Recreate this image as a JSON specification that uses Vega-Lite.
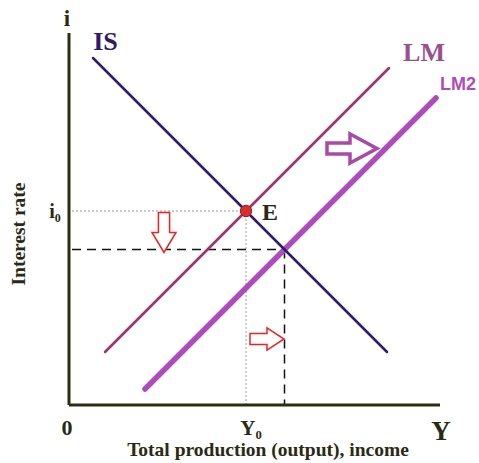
{
  "$schema": "https://vega.github.io/schema/vega-lite/v6.json",
  "width": 371,
  "height": 372,
  "autosize": {"type": "none"},
  "padding": {"left": 69, "right": 39, "top": 33, "bottom": 58},
  "background": "white",
  "config": {"view": {"stroke": null}},
  "encoding": {
    "x": {"field": "x", "type": "quantitative", "scale": {"domain": [0, 371], "nice": false, "zero": false}, "axis": null},
    "y": {"field": "y", "type": "quantitative", "scale": {"domain": [0, 372], "nice": false, "zero": false}, "axis": null}
  },
  "layer": [
    {
      "data": {"values": [{"x": 177, "y": 194, "x2": 0, "y2": 194}, {"x": 177, "y": 194, "x2": 177, "y2": 0}]},
      "mark": {"type": "rule", "color": "#9a9a9a", "strokeWidth": 1, "strokeDash": [2, 2]},
      "encoding": {"x2": {"field": "x2"}, "y2": {"field": "y2"}}
    },
    {
      "data": {"values": [{"x": 3, "y": 155.5, "x2": 215.5, "y2": 155.5}, {"x": 215.5, "y": 155.5, "x2": 215.5, "y2": 0}]},
      "mark": {"type": "rule", "color": "#111111", "strokeWidth": 1.5, "strokeDash": [9, 6]},
      "encoding": {"x2": {"field": "x2"}, "y2": {"field": "y2"}}
    },
    {
      "data": {"values": [{"x": 0, "y": 0, "x2": 0, "y2": 372}, {"x": 0, "y": 0, "x2": 371, "y2": 0}]},
      "mark": {"type": "rule", "color": "#2d2d14", "strokeWidth": 3},
      "encoding": {"x2": {"field": "x2"}, "y2": {"field": "y2"}}
    },
    {
      "data": {"values": [{"curve": "LM", "x": 36, "y": 53, "x2": 320, "y2": 337}]},
      "mark": {"type": "rule", "color": "#a3306e", "strokeWidth": 2.5, "strokeCap": "round"},
      "encoding": {"x2": {"field": "x2"}, "y2": {"field": "y2"}}
    },
    {
      "data": {"values": [{"curve": "LM2", "x": 76, "y": 16, "x2": 367, "y2": 307}]},
      "mark": {"type": "rule", "color": "#ad4cba", "strokeWidth": 5.5, "strokeCap": "round"},
      "encoding": {"x2": {"field": "x2"}, "y2": {"field": "y2"}}
    },
    {
      "data": {"values": [{"curve": "IS", "x": 24, "y": 347, "x2": 318, "y2": 53}]},
      "mark": {"type": "rule", "color": "#2e1a6e", "strokeWidth": 2.5, "strokeCap": "round"},
      "encoding": {"x2": {"field": "x2"}, "y2": {"field": "y2"}}
    },
    {
      "data": {"values": [{"label": "E", "x": 177, "y": 194}]},
      "mark": {"type": "point", "filled": true, "color": "#d63030", "stroke": "#a01818", "strokeWidth": 1, "size": 130, "opacity": 1}
    },
    {
      "data": {"values": [{"arrow": "down", "x": 95, "y": 172.5}]},
      "mark": {"type": "point", "shape": "M -0.28 -1 L 0.28 -1 L 0.28 0 L 0.6 0 L 0 1 L -0.6 0 L -0.28 0 Z", "size": 1600, "fill": "white", "fillOpacity": 1, "stroke": "#ee2222", "strokeWidth": 1.5, "opacity": 1}
    },
    {
      "data": {"values": [{"arrow": "right", "x": 198, "y": 66}]},
      "mark": {"type": "point", "shape": "M -1 -0.32 L 0 -0.32 L 0 -0.65 L 1 0 L 0 0.65 L 0 0.32 L -1 0.32 Z", "size": 1156, "fill": "white", "fillOpacity": 1, "stroke": "#ee2222", "strokeWidth": 1.5, "opacity": 1}
    },
    {
      "data": {"values": [{"arrow": "shift", "x": 283, "y": 256.5}]},
      "mark": {"type": "point", "shape": "M -1 -0.22 L -0.08 -0.22 L -0.08 -0.58 L 1 0 L -0.08 0.58 L -0.08 0.22 L -1 0.22 Z", "size": 2500, "fill": "white", "fillOpacity": 1, "stroke": "#a84aa8", "strokeWidth": 3.5, "opacity": 1}
    },
    {
      "data": {"values": [
        {"text": "i", "x": -2, "y": 386, "size": 23},
        {"text": "E", "x": 201, "y": 192, "size": 24},
        {"text": "i₀", "x": -14, "y": 193, "size": 20},
        {"text": "0", "x": -2, "y": -23, "size": 22},
        {"text": "Y₀", "x": 182, "y": -24, "size": 21},
        {"text": "Y", "x": 372, "y": -27, "size": 27},
        {"text": "Total  production (output), income", "x": 199, "y": -45, "size": 19.5}
      ]},
      "mark": {"type": "text", "font": "Liberation Serif", "fontWeight": "bold", "color": "#2a2a14", "align": "center", "baseline": "middle"},
      "encoding": {"text": {"field": "text"}, "size": {"field": "size", "type": "quantitative", "scale": null}}
    },
    {
      "data": {"values": [{"text": "Interest rate", "x": -50, "y": 171}]},
      "mark": {"type": "text", "font": "Liberation Serif", "fontWeight": "bold", "fontSize": 19.5, "color": "#2a2a14", "align": "center", "baseline": "middle", "angle": 270},
      "encoding": {"text": {"field": "text"}}
    },
    {
      "data": {"values": [{"text": "IS", "x": 36.5, "y": 363}]},
      "mark": {"type": "text", "font": "Liberation Serif", "fontWeight": "bold", "fontSize": 26, "color": "#2e1a6e", "align": "center", "baseline": "middle"},
      "encoding": {"text": {"field": "text"}}
    },
    {
      "data": {"values": [{"text": "LM", "x": 355, "y": 352.5}]},
      "mark": {"type": "text", "font": "Liberation Serif", "fontWeight": "bold", "fontSize": 26, "color": "#9c4f8f", "align": "center", "baseline": "middle"},
      "encoding": {"text": {"field": "text"}}
    },
    {
      "data": {"values": [{"text": "LM2", "x": 389, "y": 320}]},
      "mark": {"type": "text", "font": "Liberation Sans", "fontWeight": "bold", "fontSize": 18, "color": "#b04cb8", "align": "center", "baseline": "middle"},
      "encoding": {"text": {"field": "text"}}
    }
  ]
}
